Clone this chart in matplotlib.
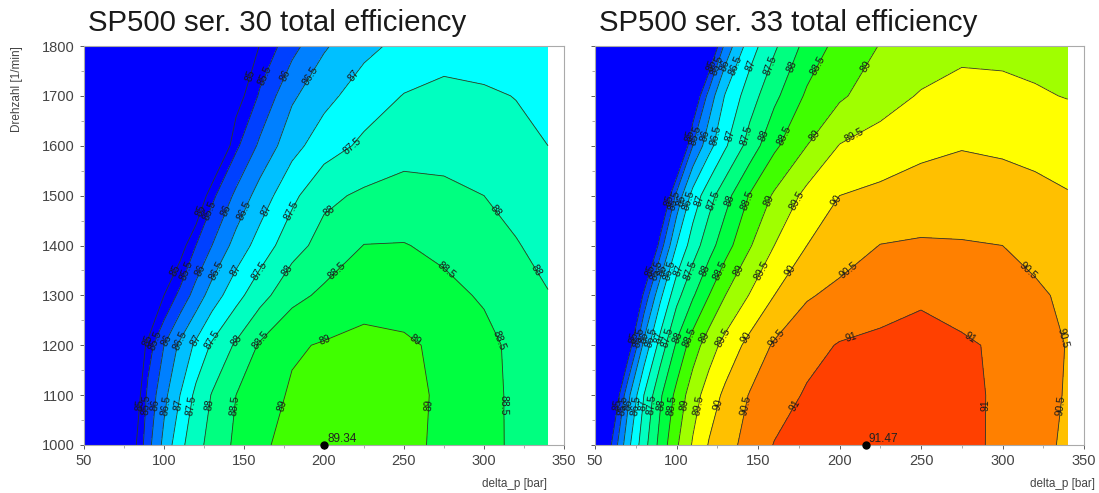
import matplotlib.pyplot as plt
import numpy as np

plt.rcParams['font.family'] = ['Liberation Sans', 'DejaVu Sans']

# grid: pressure difference [bar] x speed [1/min]
delta_p = [50, 60, 70, 80, 90, 100, 110, 120, 130, 145, 160, 180, 200, 225, 250, 275, 300, 320, 340]
speed = [1000, 1100, 1200, 1300, 1400, 1500, 1600, 1700, 1800]

# total efficiency [%], SP500 series 30 (one row per speed)
eff_30 = [
    [79.6, 81.3, 83.0, 84.7, 85.83, 86.64, 87.36, 87.83, 88.18, 88.59, 88.92, 89.15, 89.34, 89.22, 89.09, 88.93, 88.62, 88.43, 88.30],
    [79.2, 80.9, 82.6, 84.3, 85.64, 86.36, 87.00, 87.63, 88.03, 88.50, 88.78, 89.06, 89.20, 89.28, 89.12, 88.93, 88.63, 88.42, 88.25],
    [78.5, 80.2, 81.9, 83.6, 85.25, 86.00, 86.60, 87.10, 87.57, 88.07, 88.56, 88.94, 89.04, 89.11, 89.06, 88.92, 88.63, 88.39, 88.15],
    [76.5, 78.2, 79.9, 81.6, 83.3, 85.00, 85.65, 86.21, 86.73, 87.33, 87.82, 88.35, 88.60, 88.85, 88.83, 88.62, 88.45, 88.23, 88.02],
    [74.5, 76.2, 77.9, 79.6, 81.3, 83.0, 84.7, 85.5, 86.0, 86.69, 87.21, 87.81, 88.18, 88.51, 88.52, 88.40, 88.19, 88.03, 87.85],
    [72.4, 74.1, 75.8, 77.5, 79.2, 80.9, 82.6, 84.3, 85.38, 86.11, 86.72, 87.38, 87.89, 88.08, 88.19, 88.11, 88.0, 87.85, 87.7],
    [70.2, 71.9, 73.6, 75.3, 77.0, 78.7, 80.4, 82.1, 83.8, 85.4, 86.1, 86.83, 87.27, 87.6, 87.8, 87.83, 87.7, 87.6, 87.5],
    [68.5, 70.2, 71.9, 73.6, 75.3, 77.0, 78.7, 80.4, 82.1, 84.7, 85.58, 86.42, 86.85, 87.25, 87.52, 87.59, 87.55, 87.49, 87.35],
    [66.6, 68.3, 70.0, 71.7, 73.4, 75.1, 76.8, 78.5, 80.2, 82.8, 85.08, 85.83, 86.44, 86.87, 87.14, 87.36, 87.33, 87.27, 87.2],
]

# total efficiency [%], SP500 series 33
eff_33 = [
    [83.0, 85.0, 86.33, 87.3, 88.17, 88.93, 89.55, 90.04, 90.31, 90.69, 91.02, 91.18, 91.34, 91.42, 91.27, 91.11, 90.92, 90.65, 90.42],
    [82.2, 84.2, 85.83, 87.0, 87.92, 88.64, 89.28, 89.74, 90.11, 90.53, 90.79, 91.05, 91.19, 91.35, 91.22, 91.1, 90.93, 90.69, 90.46],
    [80.6, 82.6, 84.6, 86.13, 87.2, 88.07, 88.75, 89.27, 89.67, 90.16, 90.56, 90.85, 91.03, 91.1, 91.12, 91.07, 90.92, 90.7, 90.48],
    [79.2, 81.2, 83.2, 85.13, 86.38, 87.33, 87.94, 88.5, 89.0, 89.53, 90.0, 90.45, 90.63, 90.81, 90.95, 90.8, 90.67, 90.57, 90.42],
    [77.4, 79.4, 81.4, 83.4, 85.25, 86.5, 87.25, 87.8, 88.3, 88.96, 89.5, 90.0, 90.26, 90.51, 90.55, 90.53, 90.5, 90.38, 90.25],
    [76.0, 78.0, 80.0, 82.0, 84.0, 85.63, 86.69, 87.31, 87.82, 88.54, 89.07, 89.64, 90.0, 90.12, 90.24, 90.28, 90.22, 90.13, 90.03],
    [73.8, 75.8, 77.8, 79.8, 81.8, 83.8, 85.5, 86.33, 86.94, 87.71, 88.4, 89.0, 89.52, 89.69, 89.87, 89.97, 89.92, 89.86, 89.78],
    [72.4, 74.4, 76.4, 78.4, 80.4, 82.4, 84.4, 85.71, 86.55, 87.27, 87.88, 88.58, 88.92, 89.3, 89.54, 89.62, 89.6, 89.55, 89.48],
    [70.2, 72.2, 74.2, 76.2, 78.2, 80.2, 82.2, 84.2, 85.67, 86.77, 87.42, 88.17, 88.68, 89.02, 89.22, 89.41, 89.4, 89.35, 89.3],
]

# best points marked on the charts
best_30 = (200, 1000, 89.34)
best_33 = (216, 1000, 91.47)

titles = ["SP500 ser. 30 total efficiency", "SP500 ser. 33 total efficiency"]

band_colors = ['#0000FF', '#0040FF', '#0080FF', '#00C0FF', '#00FFFF', '#00FFC0', '#00FF80',
               '#00FF40', '#40FF00', '#A0FF00', '#FFFF00', '#FFC000', '#FF8000', '#FF4000']


def label_spots(cs, rows):
    # where each contour line crosses the given speed rows
    spots = []
    for path in cs.get_paths():
        for poly in path.to_polygons(closed_only=False):
            x, y = poly[:, 0], poly[:, 1]
            for r in rows:
                s = np.sign(y - r)
                for i in np.where(s[:-1] * s[1:] < 0)[0]:
                    t = (r - y[i]) / (y[i + 1] - y[i])
                    spots.append((x[i] + t * (x[i + 1] - x[i]), r))
    return spots


fig = plt.figure(figsize=(10.99, 4.93), dpi=100)
ax1 = fig.add_axes([84 / 1099, 48 / 493, 480 / 1099, 399 / 493])
ax2 = fig.add_axes([595 / 1099, 48 / 493, 489 / 1099, 399 / 493])

panels = [
    (ax1, eff_30, 85.5, 89.5, best_30, titles[0], [1080, 1210, 1350, 1470, 1600, 1740], -17),
    (ax2, eff_33, 85.0, 91.5, best_33, titles[1], [1080, 1215, 1350, 1490, 1620, 1760], 11),
]

for ax, eff, lo, hi, best, title, rows, xl_off in panels:
    Z = np.array(eff)
    fill_levels = [0] + list(np.arange(lo, hi + 0.01, 0.5)) + [100]
    ncol = len(fill_levels) - 1
    ax.contourf(delta_p, speed, Z, levels=fill_levels, colors=band_colors[:ncol])
    line_levels = np.arange(85, hi - 0.49, 0.5)
    cs = ax.contour(delta_p, speed, Z, levels=line_levels, colors='#2a3a2a', linewidths=0.6)
    ax.clabel(cs, fmt='%g', fontsize=7.5, inline=False, colors='#1a1a1a',
              manual=label_spots(cs, rows))

    ax.plot(best[0], best[1], 'o', color='black', markersize=5, clip_on=False, zorder=5)
    ax.text(best[0] + 2, best[1] + 6, f"{best[2]:.2f}", fontsize=8.5, color='#222222')

    ax.set_xlim(50, 350)
    ax.set_ylim(1000, 1800)
    ax.set_xticks(np.arange(50, 351, 50))
    ax.set_xticks(np.arange(50, 351, 25), minor=True)
    ax.set_yticks(np.arange(1000, 1801, 100))
    ax.set_yticks(np.arange(1000, 1801, 50), minor=True)
    ax.tick_params(labelsize=10.5, colors='#444444', length=3, width=0.6)
    ax.tick_params(which='minor', length=2, width=0.5, colors='#888888')
    for s in ax.spines.values():
        s.set_color('#AAAAAA')
        s.set_linewidth(0.8)

    bb = ax.get_position()
    fig.text(bb.x0 + 4 / 1099, 1 - 31 / 493, title, fontsize=21.2, color='#1a1a1a', va='baseline')
    fig.text(bb.x1 + xl_off / 1099, 1 - 487 / 493, "delta_p [bar]", fontsize=8.5, color='#444444', ha='right')

ax2.tick_params(labelleft=False)
ax1.set_ylabel("Drehzahl [1/min]", fontsize=8.5, color='#444444', loc='top')
ax1.yaxis.set_label_coords(-0.127, 1.0)

fig.savefig("out.png", dpi=100)
